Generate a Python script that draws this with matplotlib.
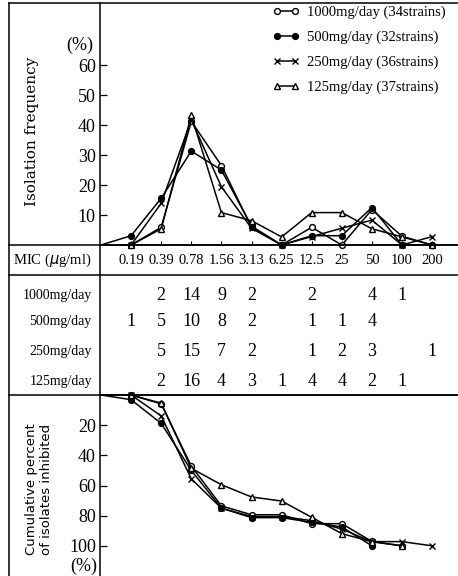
import numpy as np
import matplotlib
matplotlib.use("Agg")
import matplotlib.pyplot as plt
from matplotlib.lines import Line2D

# ---------------- data ----------------
mic_labels = ['0.19', '0.39', '0.78', '1.56', '3.13', '6.25', '12.5', '25', '50', '100', '200']
dose_labels = ['1000mg/day', '500mg/day', '250mg/day', '125mg/day']
legend_labels = ['1000mg/day (34strains)', '500mg/day (32strains)',
                 '250mg/day (36strains)', '125mg/day (37strains)']

# strain counts table (None = blank cell)
counts_1000 = [None, 2, 14, 9, 2, None, 2, None, 4, 1, None]
counts_500 = [1, 5, 10, 8, 2, None, 1, 1, 4, None, None]
counts_250 = [None, 5, 15, 7, 2, None, 1, 2, 3, None, 1]
counts_125 = [None, 2, 16, 4, 3, 1, 4, 4, 2, 1, None]

# isolation frequency (%)
freq_1000 = [0, 5.9, 41.2, 26.5, 5.9, 0, 5.9, 0, 11.8, 2.9, 0]
freq_500 = [3.1, 15.6, 31.3, 25.0, 6.3, 0, 3.1, 3.1, 12.5, 0, 0]
freq_250 = [0, 13.9, 41.7, 19.4, 5.6, 0, 2.8, 5.6, 8.3, 0, 2.8]
freq_125 = [0, 5.4, 43.2, 10.8, 8.1, 2.7, 10.8, 10.8, 5.4, 2.7, 0]

# cumulative percent of isolates inhibited
cum_1000 = [0, 5.9, 47.1, 73.5, 79.4, 79.4, 85.3, 85.3, 97.1, 100, np.nan]
cum_500 = [3.1, 18.8, 50.0, 75.0, 81.3, 81.3, 84.4, 87.5, 100, np.nan, np.nan]
cum_250 = [0, 13.9, 55.6, 75.0, 80.6, 80.6, 83.3, 88.9, 97.2, 97.2, 100]
cum_125 = [0, 5.4, 48.6, 59.5, 67.6, 70.3, 81.1, 91.9, 97.3, 100, np.nan]

# ---------------- layout helpers ----------------
W, H = 458, 576
fig = plt.figure(figsize=(W / 100, H / 100), dpi=100)
fig.patch.set_facecolor('white')


def fx(px):
    return px / W


def fy(py):
    return 1 - py / H


SERIF = ['Liberation Serif', 'DejaVu Serif']
styles = [
    dict(marker='o', mfc='white', mec='black'),
    dict(marker='o', mfc='black', mec='black'),
    dict(marker='x', mfc='black', mec='black'),
    dict(marker='^', mfc='white', mec='black'),
]
LW = 1.1

x = np.arange(0, len(mic_labels) + 1)  # 0 = origin, 1..11 = categories
XLIM = (-0.033, 11.86)

# ---------------- top plot ----------------
ax1 = fig.add_axes([fx(100), fy(245), fx(458) - fx(100), fy(3) - fy(245)])
ax1.set_xlim(*XLIM)
ax1.set_ylim(0, 80.67)
for vals, st in zip([freq_1000, freq_500, freq_250, freq_125], styles):
    ax1.plot(x, [0] + vals, color='black', lw=LW, ms=4.2, mew=1.0,
             markevery=list(range(1, len(x))), clip_on=False, **st)
ax1.spines['top'].set_visible(False)
ax1.spines['right'].set_visible(False)
for s in ['left', 'bottom']:
    ax1.spines[s].set_linewidth(1.1)
ax1.set_xticks(x[1:])
ax1.set_xticklabels([])
ax1.tick_params(axis='x', direction='in', length=3, width=0.8)
ax1.set_yticks([10, 20, 30, 40, 50, 60])
ax1.tick_params(axis='y', direction='in', length=5, width=0.9, pad=3, labelsize=13)
for lab in ax1.get_yticklabels():
    lab.set_family(SERIF)

handles = [Line2D([0], [0], color='black', lw=LW, ms=4.2, mew=1.0, **st) for st in styles]
leg = ax1.legend(handles, legend_labels, loc='upper left', numpoints=2,
                 bbox_to_anchor=(fx(273), fy(6)), bbox_transform=fig.transFigure,
                 frameon=False, borderpad=0, borderaxespad=0, handlelength=1.8,
                 handletextpad=0.55, labelspacing=0.78,
                 prop={'family': SERIF, 'size': 10.5})

fig.text(fx(80), fy(45), '(%)', ha='center', va='center', fontsize=13, family=SERIF)
fig.text(fx(32), fy(131), 'Isolation frequency', rotation=90, ha='center', va='center',
         fontsize=11, family=['DejaVu Serif'])

# ---------------- bottom plot ----------------
ax2 = fig.add_axes([fx(100), 0, fx(458) - fx(100), fy(395)])
ax2.set_xlim(*XLIM)
ax2.set_ylim(120, 0)
for vals, st in zip([cum_1000, cum_500, cum_250, cum_125], styles):
    ax2.plot(x, [0] + vals, color='black', lw=LW, ms=4.2, mew=1.0,
             markevery=list(range(1, len(x))), clip_on=False, **st)
ax2.spines['bottom'].set_visible(False)
ax2.spines['right'].set_visible(False)
for s in ['left', 'top']:
    ax2.spines[s].set_linewidth(1.1)
ax2.set_xticks([])
ax2.set_yticks([20, 40, 60, 80, 100])
ax2.tick_params(axis='y', direction='in', length=5, width=0.9, pad=3, labelsize=13)
for lab in ax2.get_yticklabels():
    lab.set_family(SERIF)
fig.text(fx(84), fy(566), '(%)', ha='center', va='center', fontsize=13, family=SERIF)
fig.text(fx(39), fy(489), 'Cumulative percent\nof isolates inhibited', rotation=90,
         ha='center', va='center', fontsize=9.5, family=['DejaVu Sans'],
         multialignment='center', linespacing=1.1)

# ---------------- table area ----------------
def hline(py, x0=9, x1=458):
    fig.add_artist(Line2D([fx(x0), fx(x1)], [fy(py), fy(py)], transform=fig.transFigure,
                          color='black', lw=1.1))


def vline(px, y0, y1):
    fig.add_artist(Line2D([fx(px), fx(px)], [fy(y0), fy(y1)], transform=fig.transFigure,
                          color='black', lw=1.1))


hline(3)
hline(245)
hline(275)
hline(395)
vline(9, 3, 576)
vline(100, 245, 395)


def col_x(i):
    # category i (0-based) sits at data x = i + 1; convert to figure pixels
    disp = ax1.transData.transform((i + 1, 0))
    return disp[0] / fig.dpi * 100


fig.text(fx(52), fy(260), 'MIC ($\\mu$g/ml)', ha='center', va='center', fontsize=10.5,
         family=SERIF)
for i, lab in enumerate(mic_labels):
    fig.text(fx(col_x(i)), fy(260), lab, ha='center', va='center', fontsize=10.5, family=SERIF)

row_y = [296, 322, 351, 382]
for name, counts, yy in zip(dose_labels, [counts_1000, counts_500, counts_250, counts_125], row_y):
    fig.text(fx(92), fy(yy), name, ha='right', va='center', fontsize=10, family=SERIF)
    for i, c in enumerate(counts):
        if c is not None:
            fig.text(fx(col_x(i)), fy(yy), str(c), ha='center', va='center', fontsize=13,
                     family=SERIF)

fig.savefig('out.png', dpi=100, facecolor='white')
